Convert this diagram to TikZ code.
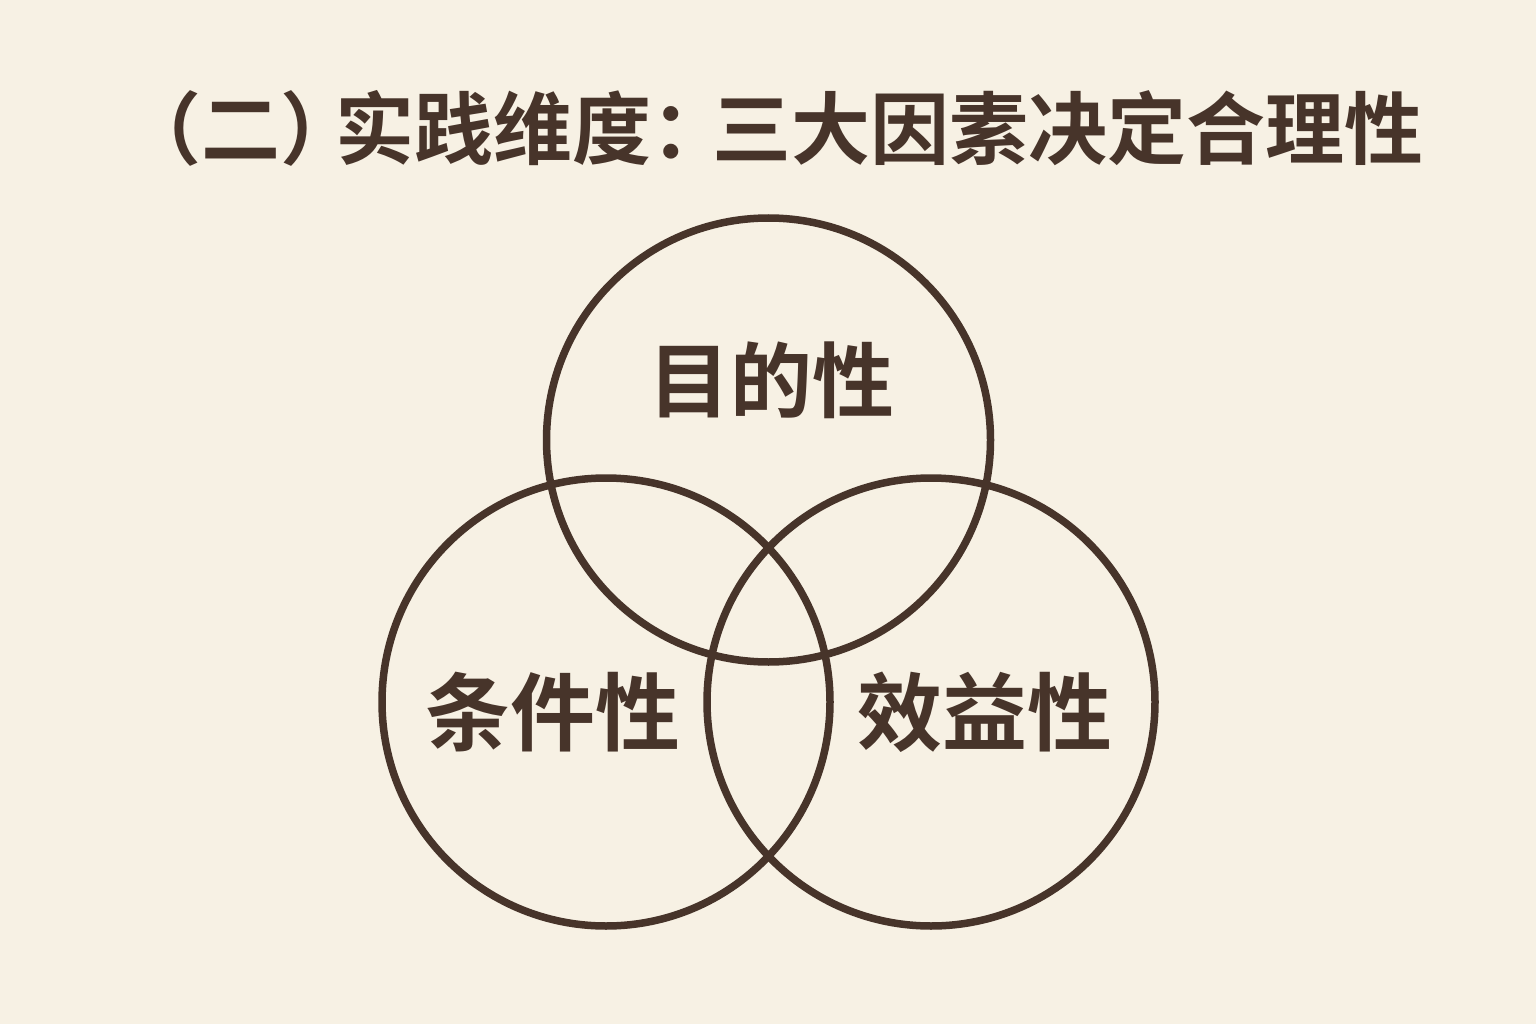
\documentclass[tikz,border=0pt]{standalone}
\usepackage{fontspec}
\newfontfamily\cjk{Noto Sans CJK SC}[BoldFont={Noto Sans CJK SC Bold}]
\definecolor{bg}{HTML}{F7F1E4}
\definecolor{ink}{HTML}{47342A}
\begin{document}
\begin{tikzpicture}[x=1pt,y=-1pt,
  ring/.style={draw=ink,line width=7.5pt},
  lbl/.style={text=ink,font=\cjk\bfseries\fontsize{82}{90}\selectfont,inner sep=0pt},
  lblb/.style={lbl,font=\cjk\bfseries\fontsize{85}{90}\selectfont},
  ttl/.style={text=ink,font=\cjk\bfseries\fontsize{79}{85}\selectfont,inner sep=0pt}]
\fill[bg] (0,0) rectangle (1536,1024);
\useasboundingbox (0,0) rectangle (1536,1024);
\node[ttl,anchor=west] (title) at (122,128) {（二）\kern-0.3em 实践维度：\kern-0.23em 三大因素决定合理性};
\draw[ring] (768.5,440) circle (222);
\draw[ring] (606,702) circle (224);
\draw[ring] (931,702) circle (224);
\node[lbl] (a) at (771,380) {目的性};
\node[lblb] (b) at (553,712) {条件性};
\node[lblb] (c) at (985,712) {效益性};
\end{tikzpicture}
\end{document}
